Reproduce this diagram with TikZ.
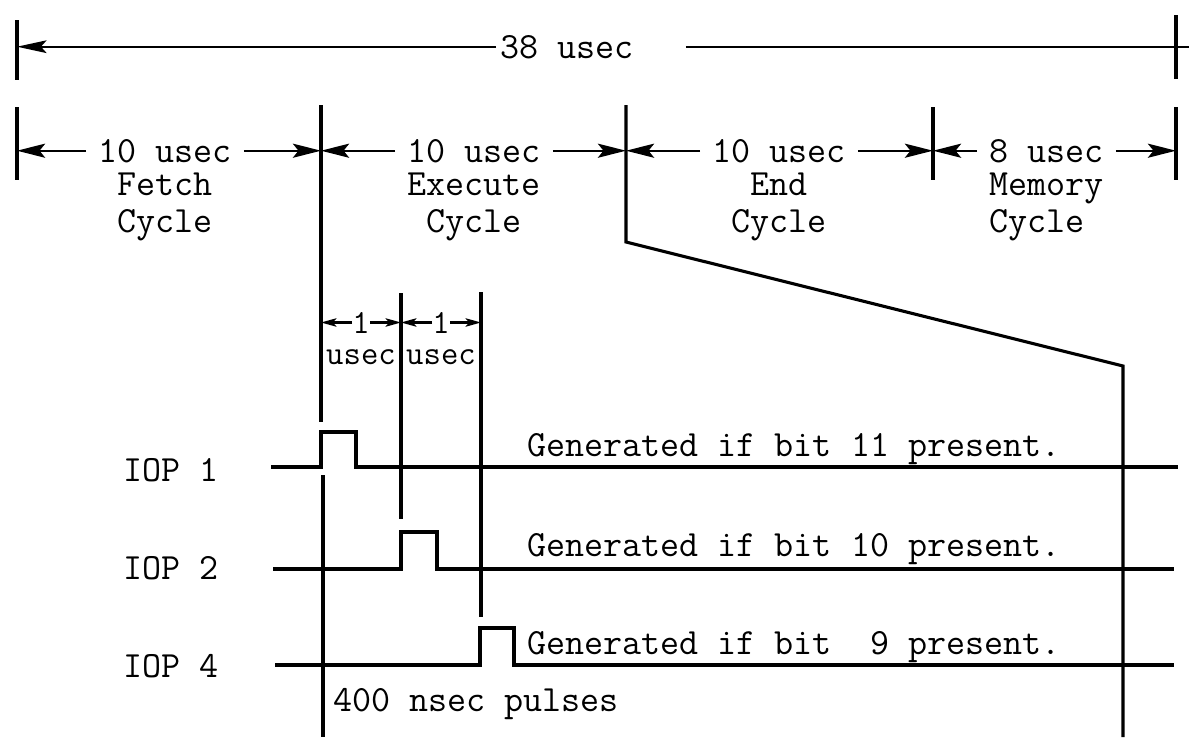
\documentclass[tikz,border=0pt]{standalone}
\usepackage{fontspec}
\usetikzlibrary{arrows.meta,positioning}

\tikzset{
  tick/.style={line width=2.2pt},
  signal/.style={line width=2.2pt, line join=miter},
  bigdim/.style={line width=1.6pt, -{Stealth[length=21pt,width=9pt,inset=4pt]}},
  dimline/.style={line width=1.6pt, -{Stealth[length=20pt,width=10pt,inset=4pt]}},
  smalldim/.style={line width=1.5pt, -{Stealth[length=11pt,width=6pt,inset=2.5pt]}},
  lbl/.style={font=\ttfamily\fontsize{26.3pt}{26.5pt}\selectfont, inner sep=0pt},
  dimlbl/.style={lbl, inner xsep=0.3cm},
  smalllbl/.style={font=\ttfamily\fontsize{24pt}{22pt}\selectfont, inner sep=0pt},
}

\begin{document}
\begin{tikzpicture}[x=0.025cm, y=-0.025cm]
  \useasboundingbox (0,0) rectangle (1189,746);

  % tick marks
  \coordinate (s0) at (17,20);
  \coordinate (s1) at (1176,15);
  \coordinate (t0) at (17,107);
  \coordinate (t1) at (321,105);
  \coordinate (t2) at (626,105);
  \coordinate (t3) at (933,107);
  \coordinate (t4) at (1176,107);
  \coordinate (b1) at (401,293);
  \coordinate (b2) at (481,292);
  \draw[tick] (s0) -- ++(0,60);
  \draw[tick] (s1) -- ++(0,64);
  \draw[tick] (t0) -- ++(0,73);
  \draw[tick] (t3) -- ++(0,73);
  \draw[tick] (t4) -- ++(0,73);
  \draw[tick] (t1) -- (321,422);
  \draw[tick] (t2) -- (626,242) -- (1123,366) -- (1123,737);
  \draw[tick] (323,475) -- (323,737);
  \draw[tick] (b1) -- (401,519);
  \draw[tick] (b2) -- (481,617);

  % overall time
  \node[lbl, inner xsep=0.1cm, anchor=base] (totT) at (567,58) {38 usec};
  \draw[bigdim] (totT.west) -- (totT.west -| s0);
  \draw[bigdim] ([xshift=1.2cm]totT.east) -- ([xshift=1.2cm]totT.east -| s1);

  % cycles
  \node[dimlbl, anchor=base] (fetchT) at (165,162) {10 usec};
  \node[dimlbl, below=0.25cm of fetchT, align=center] (fetchN) {Fetch\\Cycle};
  \node[dimlbl, anchor=base] (execT) at (474,162) {10 usec};
  \node[dimlbl, below=0.25cm of execT, align=center] (execN) {Execute\\Cycle};
  \node[dimlbl, anchor=base] (endT) at (779,162) {10 usec};
  \node[dimlbl, below=0.25cm of endT, align=center] (endN) {End\\Cycle};
  \node[dimlbl, anchor=base west] (memT) at (977,162) {8 usec};
  \node[dimlbl, below=0.25cm of memT.south west, anchor=north west, align=left] (memN) {Memory\\Cycle};
  \draw[dimline] (fetchT.west) -- (fetchT.west -| t0);
  \draw[dimline] (fetchT.east) -- (fetchT.east -| t1);
  \draw[dimline] (execT.west) -- (execT.west -| t1);
  \draw[dimline] (execT.east) -- (execT.east -| t2);
  \draw[dimline] (endT.west) -- (endT.west -| t2);
  \draw[dimline] (endT.east) -- (endT.east -| t3);
  \draw[dimline] (memT.west) -- (memT.west -| t3);
  \draw[dimline] (memT.east) -- (memT.east -| t4);

  % 1 usec steps
  \node[smalllbl, anchor=base] (oneA) at (361,333) {1};
  \node[smalllbl, anchor=base] (oneB) at (441,333) {1};
  \node[smalllbl, anchor=base] (usecA) at (361,364) {usec};
  \node[smalllbl, anchor=base] (usecB) at (441,364) {usec};
  \draw[smalldim] (oneA.west) -- (oneA.west -| t1);
  \draw[smalldim] (oneA.east) -- (oneA.east -| b1);
  \draw[smalldim] (oneB.west) -- (oneB.west -| b1);
  \draw[smalldim] (oneB.east) -- (oneB.east -| b2);

  % pulses
  \node[lbl, anchor=base west] (iop1) at (123,481) {IOP 1};
  \node[lbl, anchor=base west] (iop2) at (123,579) {IOP 2};
  \node[lbl, anchor=base west] (iop4) at (123,677) {IOP 4};
  \draw[signal] (271,467) -- (321,467) -- (321,432) -- (356,432) -- (356,467) -- (1178,467);
  \draw[signal] (273,569) -- (401,569) -- (401,532) -- (437,532) -- (437,569) -- (1174,569);
  \draw[signal] (275,665) -- (480,665) -- (480,628) -- (514,628) -- (514,665) -- (1174,665);
  \node[lbl, anchor=base west] (gen1) at (527,456) {Generated if bit 11 present.};
  \node[lbl, anchor=base west] (gen2) at (527,556) {Generated if bit 10 present.};
  \node[lbl, anchor=base west] (gen4) at (527,654) {Generated if bit\ \ 9 present.};
  \node[lbl, anchor=base west] (pulses) at (333,711) {400 nsec pulses};
\end{tikzpicture}
\end{document}
